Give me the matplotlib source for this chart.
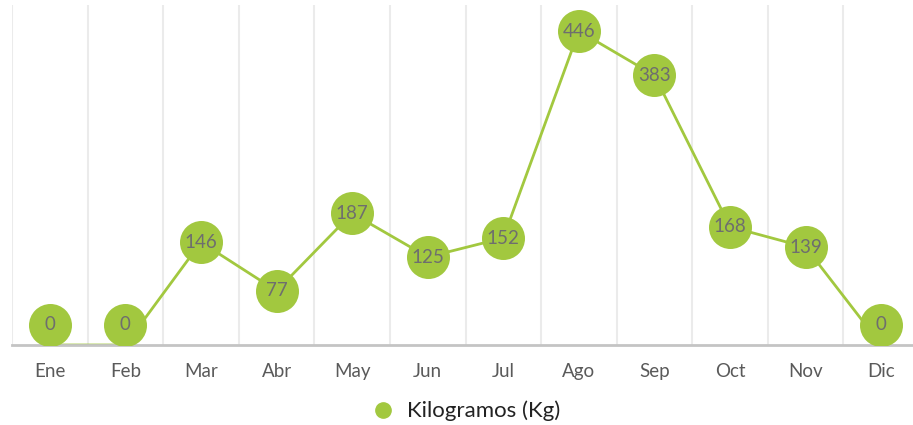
import matplotlib
matplotlib.use("Agg")
import matplotlib.pyplot as plt
from matplotlib.lines import Line2D
import numpy as np

months = ["Ene", "Feb", "Mar", "Abr", "May", "Jun", "Jul", "Ago", "Sep", "Oct", "Nov", "Dic"]
kilogramos = [0, 0, 146, 77, 187, 125, 152, 446, 383, 168, 139, 0]
series_name = "Kilogramos (Kg)"

GREEN = "#a2c83f"
W, H = 913, 425
fig = plt.figure(figsize=(W / 100, H / 100), dpi=100)
ax = fig.add_axes([12 / W, 80 / H, 907 / W, 340 / H])

ymax = 483
ax.set_xlim(-0.5, len(months) - 0.5)
ax.set_ylim(0, ymax)

# marker radius in data units (keeps zero-value markers inside the plot)
radius_px = 21.5
radius_data = (radius_px - 1) / 340 * ymax
vals = np.array(kilogramos, dtype=float)
ypos = np.maximum(vals, radius_data)

x = np.arange(len(months))
for b in np.arange(-0.5, len(months) + 0.5, 1.0):
    ax.axvline(b, color="#ebebeb", lw=1.5, zorder=0)

ax.plot(x, vals, color=GREEN, lw=2.0, zorder=1)
ax.scatter(x, ypos, s=(2 * radius_px * 0.72) ** 2, color=GREEN, zorder=3, linewidths=0)
for xi, yi, v in zip(x, ypos, kilogramos):
    ax.text(xi, yi, str(v), ha="center", va="center", fontsize=13.5, color="#6e6e6e",
            family="Lato", zorder=4)

for s in ["top", "right", "left"]:
    ax.spines[s].set_visible(False)
ax.spines["bottom"].set_color("#c4c4c4")
ax.spines["bottom"].set_linewidth(2.0)
ax.spines["bottom"].set_zorder(2)
ax.set_yticks([])
ax.set_xticks(x)
ax.set_xticklabels(months, family="Lato", fontsize=13.5, color="#5a5a5a")
ax.tick_params(axis="x", length=0, pad=13)

handle = Line2D([], [], marker="o", color="none", markerfacecolor=GREEN,
                markeredgecolor=GREEN, markersize=11)
fig.legend([handle], [series_name], loc="center", bbox_to_anchor=(466 / W, 1 - 411 / H),
           frameon=False, prop={"family": "Lato", "size": 16}, handletextpad=0.6,
           handlelength=1.0, labelcolor="#222222")

fig.savefig("out.png", dpi=100)
